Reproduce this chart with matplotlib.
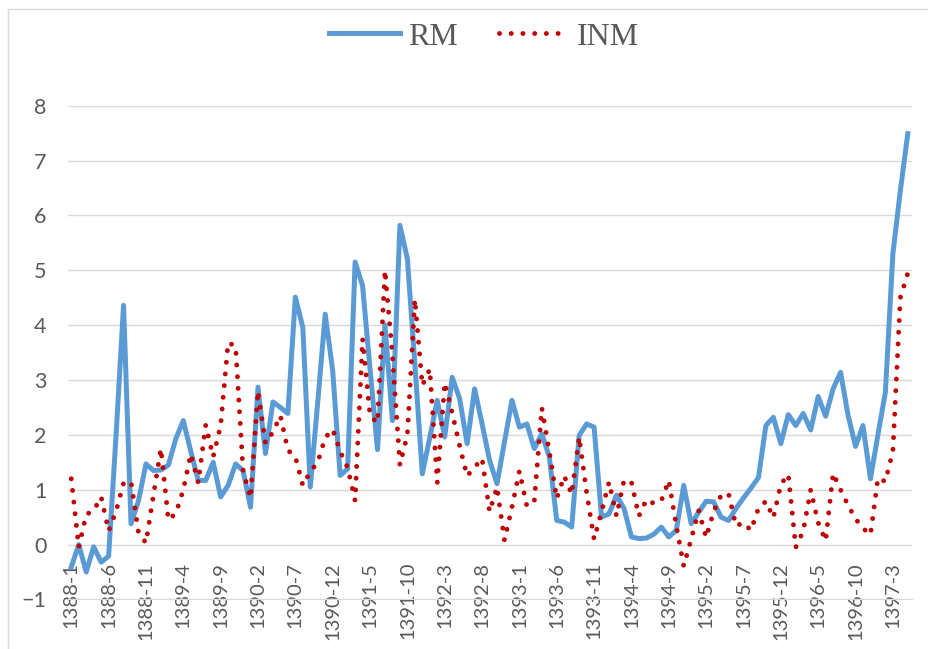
import numpy as np
import matplotlib.pyplot as plt
from matplotlib.patches import Rectangle

# monthly series, 1388-1 .. 1397-5
rm = [-0.41, 0.0, -0.5, -0.04, -0.32, -0.21, 2.0, 4.36, 0.38, 0.8,
      1.47, 1.35, 1.36, 1.45, 1.93, 2.26, 1.7, 1.17, 1.17, 1.5,
      0.87, 1.08, 1.47, 1.35, 0.68, 2.87, 1.66, 2.6, 2.5, 2.39,
      4.51, 3.96, 1.05, 2.6, 4.2, 3.17, 1.26, 1.38, 5.15, 4.72,
      3.2, 1.73, 4.0, 2.26, 5.82, 5.21, 3.3, 1.29, 1.95, 2.63,
      1.96, 3.05, 2.66, 1.84, 2.84, 2.2, 1.54, 1.11, 1.87, 2.63,
      2.14, 2.2, 1.75, 2.02, 1.6, 0.44, 0.41, 0.32, 1.99, 2.2,
      2.14, 0.5, 0.56, 0.9, 0.66, 0.14, 0.11, 0.12, 0.19, 0.32,
      0.14, 0.26, 1.08, 0.38, 0.59, 0.79, 0.78, 0.5, 0.44, 0.66,
      0.85, 1.03, 1.22, 2.17, 2.32, 1.84, 2.37, 2.17, 2.39, 2.09,
      2.7, 2.34, 2.84, 3.14, 2.36, 1.79, 2.17, 1.2, 2.0, 2.78,
      5.3, 6.45, 7.49]

inm = [1.2, -0.05, 0.55, 0.62, 0.87, 0.25, 0.61, 1.12, 1.15, 0.22,
       0.03, 0.9, 1.75, 0.45, 0.57, 1.0, 1.65, 1.13, 2.18, 1.6,
       2.17, 3.68, 3.62, 1.35, 0.85, 2.8, 1.85, 2.05, 2.35, 1.72,
       1.6, 1.08, 1.33, 1.5, 1.95, 2.1, 1.7, 1.4, 0.8, 3.75,
       2.35, 2.22, 5.0, 3.45, 1.45, 2.0, 4.47, 2.9, 3.2, 1.13,
       2.95, 2.4, 1.8, 1.25, 1.41, 1.57, 0.6, 1.05, 0.08, 0.68,
       1.34, 0.7, 0.8, 2.49, 1.7, 0.84, 1.25, 0.92, 1.96, 0.95,
       0.1, 0.6, 1.14, 0.52, 1.17, 1.14, 0.52, 0.82, 0.75, 0.8,
       1.17, 0.35, -0.39, 0.1, 0.62, 0.13, 0.6, 0.9, 0.93, 0.34,
       0.4, 0.26, 0.66, 0.79, 0.49, 1.1, 1.28, -0.05, 0.25, 1.0,
       0.4, 0.07, 1.3, 1.0, 0.72, 0.47, 0.3, 0.18, 1.21, 1.15,
       1.7, 4.5, 4.95]

months = [f"{1388 + k // 12}-{k % 12 + 1}" for k in range(len(rm))]

grey = '#595959'

fig = plt.figure(figsize=(9.29, 6.49), dpi=100)
fig.patches.append(Rectangle((8 / 929, -0.1), 1.2, 1.1 - 9 / 649, transform=fig.transFigure,
                             fill=False, edgecolor='#d9d9d9', lw=1))

ax = fig.add_axes([0.0727, 0.0763, 0.9085, 0.7609])
x = np.arange(len(rm))
ax.plot(x, rm, color='#5B9BD5', lw=3.6, solid_joinstyle='round', label='RM')
ax.plot(x, inm, color='#C00000', lw=3.5, linestyle=(0, (0.01, 2.4)),
        dash_capstyle='round', label='INM')

ax.set_xlim(-0.5, len(rm) - 0.5)
ax.set_ylim(-1, 8)
ax.set_yticks(range(-1, 9))
ax.grid(axis='y', color='#d9d9d9', lw=1)
ax.set_axisbelow(True)
for s in ['top', 'right', 'left']:
    ax.spines[s].set_visible(False)
ax.spines['bottom'].set_color('#d9d9d9')

ax.set_xticks(x[::5])
ax.set_xticklabels(months[::5], rotation=90, fontsize=14.5, family='Lato', color=grey)
for t in ax.get_yticklabels():
    t.set_fontsize(15.5)
    t.set_family('Lato')
    t.set_color(grey)
ax.tick_params(axis='y', length=0, pad=15)
ax.tick_params(axis='x', length=0, pad=-27)

fig.legend(loc='center', bbox_to_anchor=(0.5215, 0.943), ncol=2, frameon=False,
           prop={'family': 'Liberation Serif', 'size': 23}, labelcolor=grey,
           handlelength=2.2, handletextpad=0.25, columnspacing=1.3)

fig.savefig('out.png', dpi=100)
